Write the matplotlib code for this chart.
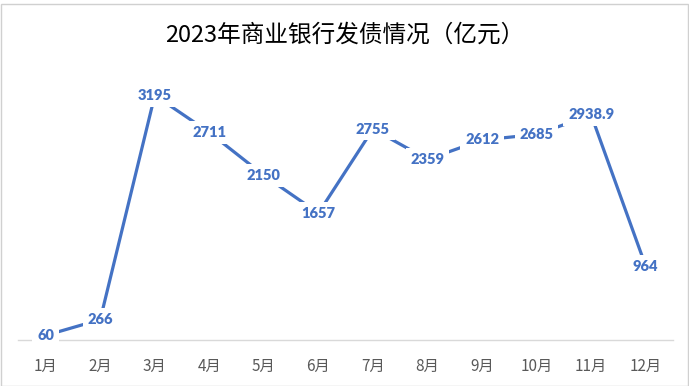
import matplotlib.pyplot as plt
from matplotlib.patches import Rectangle

plt.rcParams['font.family'] = ['Noto Sans CJK SC', 'DejaVu Sans']

months = ['1月', '2月', '3月', '4月', '5月', '6月', '7月', '8月', '9月', '10月', '11月', '12月']
issuance = [60, 266, 3195, 2711, 2150, 1657, 2755, 2359, 2612, 2685, 2938.9, 964]
labels = ['60', '266', '3195', '2711', '2150', '1657', '2755', '2359', '2612', '2685', '2938.9', '964']

blue = '#4472C4'

fig = plt.figure(figsize=(6.89, 3.86), dpi=100)
ax = fig.add_axes([18.4 / 689, 46 / 386, (673 - 18.4) / 689, (340 - 72) / 386])

x = list(range(len(months)))
ax.plot(x, issuance, color=blue, linewidth=2.3, solid_capstyle='butt', zorder=2)
for xi, v, t in zip(x, issuance, labels):
    ax.text(xi, v, t, ha='center', va='center', color=blue, fontsize=10.5,
            fontweight='heavy', family=['Lato', 'DejaVu Sans'], zorder=3,
            bbox=dict(facecolor='white', edgecolor='none', pad=3.5))

ax.set_xlim(-0.5, len(months) - 0.5)
ax.set_ylim(0, 3500)
ax.set_xticks(x)
ax.set_xticklabels(months, fontsize=11, color='#595959')
ax.tick_params(axis='x', length=0, pad=13)
ax.set_yticks([])
for side in ['left', 'right', 'top']:
    ax.spines[side].set_visible(False)
ax.spines['bottom'].set_color('#D9D9D9')
ax.spines['bottom'].set_linewidth(1)

fig.text(0.5, 1 - 35 / 386, '2023年商业银行发债情况（亿元）', ha='center', va='center',
         fontsize=17, color='black')

# chart border, like the spreadsheet frame
fig.patches.append(Rectangle((0.001, 0.0), 0.998, 1 - 4 / 386, transform=fig.transFigure,
                             fill=False, edgecolor='#D0D0D0', linewidth=1))

fig.savefig('out.png', dpi=100)
